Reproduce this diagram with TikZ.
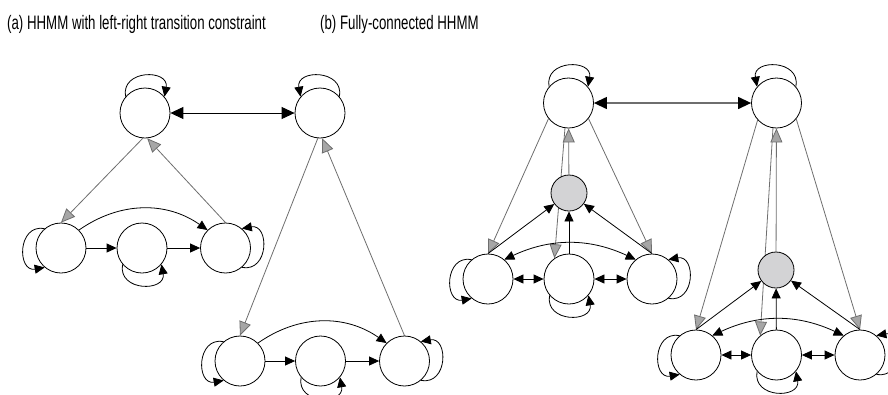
\documentclass[tikz,border=0pt]{standalone}
\usepackage{fontspec}
\setmainfont{Liberation Sans}[FakeStretch=0.68]
\usetikzlibrary{arrows.meta,backgrounds}
\definecolor{hiergray}{HTML}{6E6E6E}
\definecolor{tipgray}{HTML}{A6A6A6}
\definecolor{endgray}{HTML}{D3D3D5}

\begin{document}
\begin{tikzpicture}[
  x=1pt,
  y=1pt,
  hstate/.style={circle, draw, fill=white, line width=0.8pt, minimum size=50pt, inner sep=0pt},
  endst/.style={circle, draw, fill=endgray, line width=0.8pt, minimum size=36pt, inner sep=0pt},
  tr/.style={line width=0.8pt, -{Triangle[length=10pt,width=9pt]}},
  trtr/.style={line width=0.8pt, {Triangle[length=10pt,width=9pt]}-{Triangle[length=10pt,width=9pt]}},
  toptr/.style={line width=1pt, {Triangle[length=13pt,width=12pt,color=black]}-{Triangle[length=13pt,width=12pt,color=black]}},
  hier/.style={draw=hiergray, line width=0.8pt, -{Triangle[length=14pt,width=12pt,fill=tipgray]}},
  title/.style={font=\fontsize{19.5}{22}\selectfont, anchor=base west, inner sep=0pt}
]
  \useasboundingbox (0,0) rectangle (888,-394);

  \node[title] (ta) at (7,-29) {(a) HHMM with left-right transition constraint};
  \node[title] (tb) at (320,-29) {(b) Fully-connected HHMM};

  % (a) left-right model
  \node[hstate] (a1) at (145,-113) {};
  \node[hstate] (a2) at (320,-113) {};
  \node[hstate] (l1) at (61,-248) {};
  \node[hstate] (m1) at (142,-248) {};
  \node[hstate] (r1) at (225.5,-248) {};
  \node[hstate] (l2) at (240,-361) {};
  \node[hstate] (m2) at (320.5,-361) {};
  \node[hstate] (r2) at (404.5,-361) {};

  % (b) fully connected model
  \node[hstate] (b1) at (568.5,-103) {};
  \node[hstate] (b2) at (776.5,-103) {};
  \node[endst] (e1) at (569,-193) {};
  \node[endst] (e2) at (776,-270) {};
  \node[hstate] (bl1) at (488,-279) {};
  \node[hstate] (bm1) at (569,-279) {};
  \node[hstate] (br1) at (652,-279) {};
  \node[hstate] (bl2) at (696,-355) {};
  \node[hstate] (bm2) at (776.5,-355) {};
  \node[hstate] (br2) at (860,-355) {};

  \begin{scope}[on background layer]
    % top level
    \draw[toptr] (a1) -- (a2);
    \draw[toptr, draw=hiergray, line width=1.3pt] (b1) -- (b2);
    \draw[tr] (a1.140) to[out=100,in=80,distance=28pt] (a1.40);
    \draw[tr] (b1.140) to[out=100,in=80,distance=28pt] (b1.40);
    \draw[tr] (a2.40) to[out=80,in=100,distance=28pt] (a2.140);
    \draw[tr] (b2.40) to[out=80,in=100,distance=28pt] (b2.140);

    % vertical transitions
    \draw[hier] (a1.265) -- (l1.north);
    \draw[hier] (r1.north) -- (a1.275);
    \draw[hier] (a2.265) -- (l2.north);
    \draw[hier] (r2.north) -- (a2.275);
    \draw[hier] (b1.218) -- (bl1.north);
    \draw[hier] (b1.322) -- (br1.north);
    \draw[hier] (b1.262) -- (bm1.125);
    \draw[hier] (e1) -- (b1);
    \draw[hier] (b2.222) -- (bl2.north);
    \draw[hier] (b2.321) -- (br2.north);
    \draw[hier] (b2.262) -- (bm2.130);
    \draw[hier] (e2) -- (b2);

    % horizontal transitions
    \draw[tr] (l1) -- (m1);
    \draw[tr] (m1) -- (r1);
    \draw[tr] (l1.45) to[bend left=35] (r1.135);
    \draw[tr] (l2) -- (m2);
    \draw[tr] (m2) -- (r2);
    \draw[tr] (l2.45) to[bend left=35] (r2.135);
    \draw[trtr] (bl1) -- (bm1);
    \draw[trtr] (bm1) -- (br1);
    \draw[trtr] (bl1.50) to[bend left=25] (br1.130);
    \draw[trtr] (bl2) -- (bm2);
    \draw[trtr] (bm2) -- (br2);
    \draw[trtr] (bl2.50) to[bend left=25] (br2.130);
    \draw[tr] (bl1.north) -- (e1);
    \draw[tr] (bm1) -- (e1);
    \draw[tr] (br1.north) -- (e1);
    \draw[tr] (bl2.north) -- (e2);
    \draw[tr] (bm2) -- (e2);
    \draw[tr] (br2.north) -- (e2);

    % self transitions
    \foreach \n in {l1,l2,bl1,bl2}
      \draw[tr] (\n.130) to[out=170,in=190,distance=28pt] (\n.230);
    \foreach \n in {m1,m2,bm1,bm2}
      \draw[tr] (\n.220) to[out=260,in=280,distance=28pt] (\n.320);
    \foreach \n in {r1,r2,br1,br2}
      \draw[tr] (\n.310) to[out=350,in=10,distance=28pt] (\n.50);
  \end{scope}
\end{tikzpicture}
\end{document}
